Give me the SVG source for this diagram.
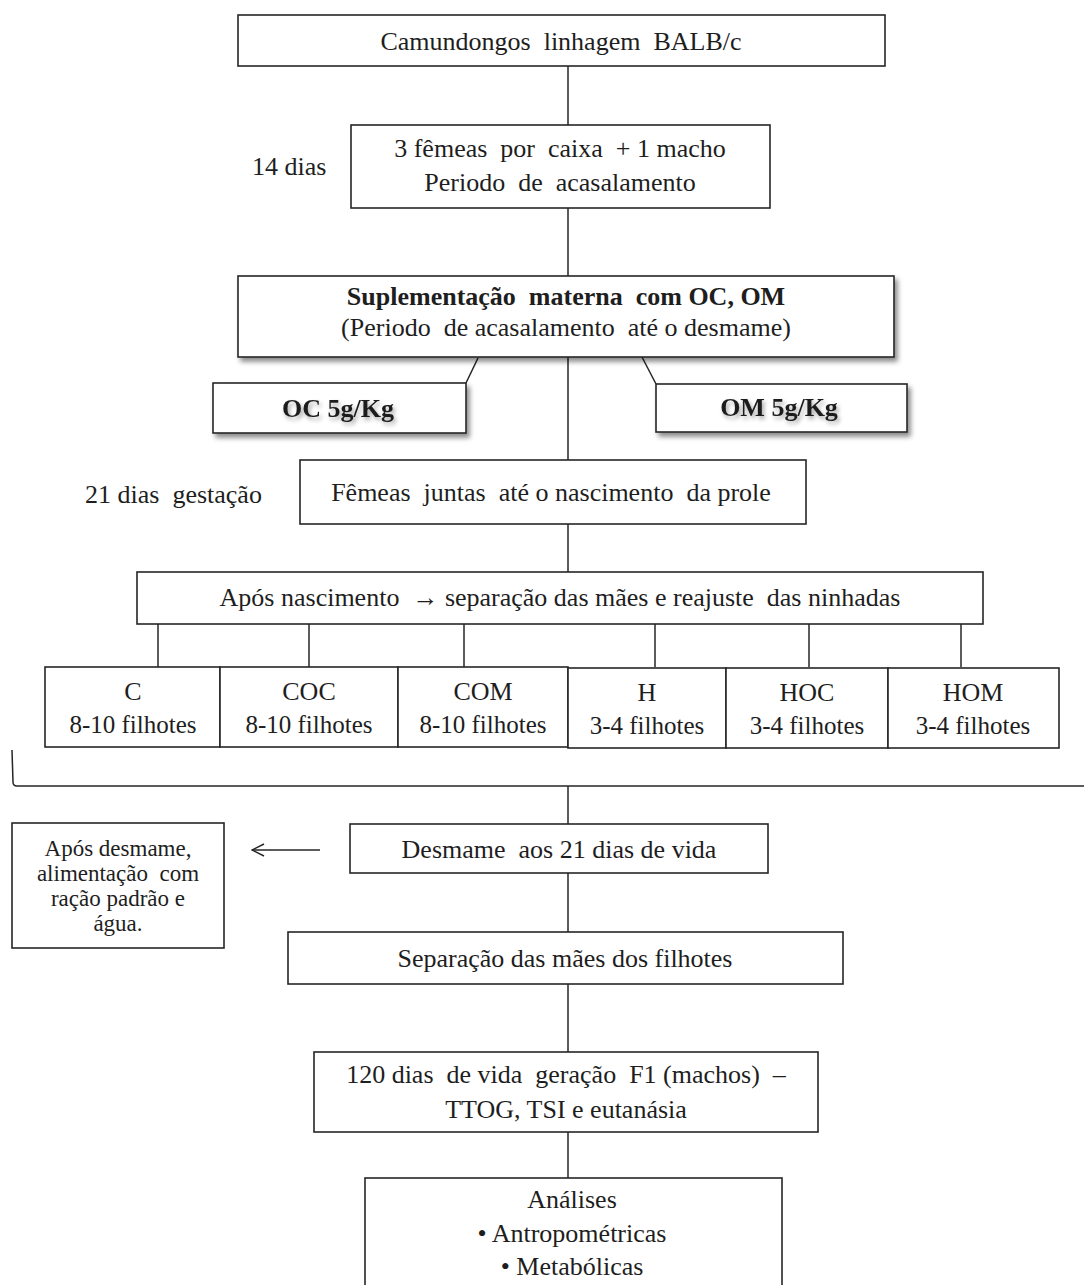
<svg xmlns="http://www.w3.org/2000/svg" width="1084" height="1285" viewBox="0 0 1084 1285" xml:space="preserve">
<defs>
<style>
.box{fill:#fff;stroke:#262626;stroke-width:1.6}
.ln{fill:none;stroke:#262626;stroke-width:1.5}
text{font-family:"Liberation Serif","Times New Roman",serif;font-size:26px;fill:#1e1e1e;text-anchor:middle;white-space:pre}
.b{font-weight:bold}
.l{text-anchor:start}
.s{font-size:25px}
.m{font-size:23px}
</style>
<filter id="sh" x="-5%" y="-10%" width="115%" height="140%">
<feDropShadow dx="3" dy="4" stdDeviation="2.5" flood-color="#000" flood-opacity="0.45"/>
</filter>
<filter id="tsh" x="-10%" y="-30%" width="130%" height="170%">
<feDropShadow dx="2" dy="3" stdDeviation="2" flood-color="#000" flood-opacity="0.35"/>
</filter>
<marker id="ah" markerWidth="14" markerHeight="14" refX="13" refY="7" orient="auto" markerUnits="userSpaceOnUse">
<path d="M1,1 L13,7 L1,13" fill="none" stroke="#262626" stroke-width="1.5"/>
</marker>
</defs>
<rect width="1084" height="1285" fill="#fff"/>

<g id="connectors">
<line class="ln" x1="568" y1="66" x2="568" y2="125"/>
<line class="ln" x1="568" y1="208" x2="568" y2="276"/>
<line class="ln" x1="478" y1="358" x2="466" y2="383"/>
<line class="ln" x1="642" y1="357" x2="656" y2="384"/>
<line class="ln" x1="568" y1="357" x2="568" y2="460"/>
<line class="ln" x1="568" y1="524" x2="568" y2="572"/>
<line class="ln" x1="158" y1="624" x2="158" y2="667"/>
<line class="ln" x1="309" y1="624" x2="309" y2="667"/>
<line class="ln" x1="464" y1="624" x2="464" y2="667"/>
<line class="ln" x1="655" y1="624" x2="655" y2="667"/>
<line class="ln" x1="809" y1="624" x2="809" y2="667"/>
<line class="ln" x1="961" y1="624" x2="961" y2="667"/>
<path class="ln" d="M12,750 L13,782 Q13,786 17,786 L1084,786"/>
<line class="ln" x1="568" y1="786" x2="568" y2="824"/>
<line class="ln" x1="320" y1="850" x2="252" y2="850" marker-end="url(#ah)"/>
<line class="ln" x1="568" y1="873" x2="568" y2="932"/>
<line class="ln" x1="568" y1="984" x2="568" y2="1052"/>
<line class="ln" x1="568" y1="1132" x2="568" y2="1178"/>
</g>

<g id="n-balb">
<rect class="box" x="238" y="15" width="647" height="51"/>
<text x="561" y="50">Camundongos  linhagem  BALB/c</text>
</g>

<g id="n-acasalamento">
<rect class="box" x="351" y="125" width="419" height="83"/>
<text x="560" y="157">3 fêmeas  por  caixa  + 1 macho</text>
<text x="560" y="191">Periodo  de  acasalamento</text>
</g>
<text class="l" x="252" y="175">14 dias</text>

<g id="n-suplementacao">
<rect class="box" x="238" y="276" width="656" height="81" filter="url(#sh)"/>
<text class="b" x="566" y="305">Suplementação  materna  com OC, OM</text>
<text x="566" y="336">(Periodo  de acasalamento  até o desmame)</text>
</g>

<g id="n-oc">
<rect class="box" x="213" y="383" width="253" height="50" filter="url(#sh)"/>
<text class="b" x="338" y="417" filter="url(#tsh)">OC 5g/Kg</text>
</g>

<g id="n-om">
<rect class="box" x="656" y="384" width="251" height="48" filter="url(#sh)"/>
<text class="b" x="779" y="416" filter="url(#tsh)">OM 5g/Kg</text>
</g>

<text class="l" x="85" y="503">21 dias  gestação</text>
<g id="n-femeas">
<rect class="box" x="300" y="460" width="506" height="64"/>
<text x="551" y="501">Fêmeas  juntas  até o nascimento  da prole</text>
</g>

<g id="n-apos-nascimento">
<rect class="box" x="137" y="572" width="846" height="52"/>
<text x="560" y="606">Após nascimento  → separação das mães e reajuste  das ninhadas</text>
</g>

<g id="n-c">
<rect class="box" x="45" y="667" width="175" height="80"/>
<text x="133" y="700">C</text>
<text class="s" x="133" y="733">8-10 filhotes</text>
</g>
<g id="n-coc">
<rect class="box" x="220" y="667" width="178" height="80"/>
<text x="309" y="700">COC</text>
<text class="s" x="309" y="733">8-10 filhotes</text>
</g>
<g id="n-com">
<rect class="box" x="398" y="667" width="170" height="80"/>
<text x="483" y="700">COM</text>
<text class="s" x="483" y="733">8-10 filhotes</text>
</g>
<g id="n-h">
<rect class="box" x="568" y="668" width="158" height="80"/>
<text x="647" y="701">H</text>
<text class="s" x="647" y="734">3-4 filhotes</text>
</g>
<g id="n-hoc">
<rect class="box" x="726" y="668" width="162" height="80"/>
<text x="807" y="701">HOC</text>
<text class="s" x="807" y="734">3-4 filhotes</text>
</g>
<g id="n-hom">
<rect class="box" x="888" y="668" width="171" height="80"/>
<text x="973" y="701">HOM</text>
<text class="s" x="973" y="734">3-4 filhotes</text>
</g>

<g id="n-alimentacao">
<rect class="box" x="12" y="823" width="212" height="125"/>
<text class="m" x="118" y="856">Após desmame,</text>
<text class="m" x="118" y="881">alimentação  com</text>
<text class="m" x="118" y="906">ração padrão e</text>
<text class="m" x="118" y="931">água.</text>
</g>

<g id="n-desmame">
<rect class="box" x="350" y="824" width="418" height="49"/>
<text x="559" y="858">Desmame  aos 21 dias de vida</text>
</g>

<g id="n-separacao">
<rect class="box" x="288" y="932" width="555" height="52"/>
<text x="565" y="967">Separação das mães dos filhotes</text>
</g>

<g id="n-120dias">
<rect class="box" x="314" y="1052" width="504" height="80"/>
<text x="566" y="1083">120 dias  de vida  geração  F1 (machos)  –</text>
<text x="566" y="1118">TTOG, TSI e eutanásia</text>
</g>

<g id="n-analises">
<rect class="box" x="365" y="1178" width="417" height="130"/>
<text x="572" y="1208">Análises</text>
<text x="572" y="1242">• Antropométricas</text>
<text x="572" y="1275">• Metabólicas</text>
</g>
</svg>
